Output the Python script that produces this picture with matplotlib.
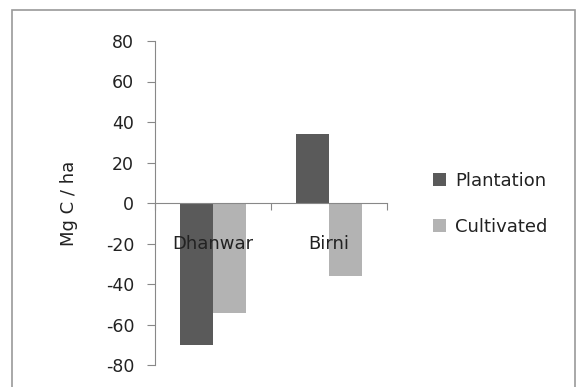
import matplotlib
matplotlib.use("Agg")
import matplotlib.pyplot as plt
from matplotlib.patches import Rectangle

categories = ["Dhanwar", "Birni"]
series_names = ["Plantation", "Cultivated"]
plantation = [-70, 34]
cultivated = [-54.5, -36]
yticks = [-80, -60, -40, -20, 0, 20, 40, 60, 80]

colors = ["#5a5a5a", "#b3b3b3"]
tc = "#222222"

plt.rcParams['font.family'] = ['DejaVu Sans']
fig = plt.figure(figsize=(5.79, 3.87), dpi=100)
fig.patches.append(Rectangle((12/579, -0.1), (575-12)/579, 1 - 10/387 + 0.1,
                             transform=fig.transFigure, fill=False,
                             edgecolor="#9a9a9a", linewidth=1.2))

ax = fig.add_axes([155/579, 1-365/387, (387-155)/579, (365-41)/387])
w = 0.286
xs = list(range(len(categories)))
ax.bar([x - w/2 for x in xs], plantation, width=w, color=colors[0], label=series_names[0])
ax.bar([x + w/2 for x in xs], cultivated, width=w, color=colors[1], label=series_names[1])

ax.set_xlim(-0.5, len(categories) - 0.5)
ax.set_ylim(-80, 80)
ax.set_yticks(yticks)
ax.set_yticklabels([str(t) for t in yticks], fontsize=12.5, color=tc)
ax.tick_params(axis='y', direction='out', length=6, color="#888888", pad=9)

for s in ["top", "right"]:
    ax.spines[s].set_visible(False)
ax.spines["left"].set_color("#888888")
ax.spines["bottom"].set_color("#888888")
ax.spines["bottom"].set_position(("data", 0))
ax.set_xticks([-0.5, 0.5, 1.5])
ax.set_xticklabels([])
ax.tick_params(axis='x', direction='out', length=5, color="#888888")

for x, c in zip(xs, categories):
    ax.text(x, -20, c, ha='center', va='center', fontsize=13, color=tc)

ax.set_ylabel("Mg C / ha", fontsize=13, color=tc, labelpad=20)

fig.legend(loc='center left', bbox_to_anchor=(417/579, 1-204/387), frameon=False,
           fontsize=13, handlelength=0.7, handleheight=0.7, handletextpad=0.5,
           labelspacing=1.55, labelcolor=tc)

fig.savefig("out.png", dpi=100)
